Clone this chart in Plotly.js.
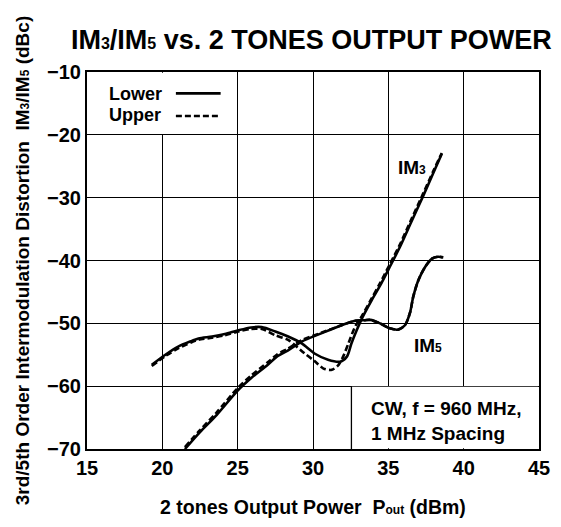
<!DOCTYPE html>
<html>
<head>
<meta charset="utf-8">
<script src="https://cdn.plot.ly/plotly-3.0.1.min.js"></script>
<style>html,body{margin:0;padding:0;background:#fff;}</style>
</head>
<body>
<div id="chart" style="width:561px;height:527px;"></div>
<script>
// ---- Data ----
const im3LowerX = [19.3, 20.2, 21.05, 21.95, 22.4, 23.3, 24.15, 25.05, 25.9, 26.6, 27.5, 28.35, 29.25, 30.1, 31.0, 31.8, 32.25, 32.55, 32.9, 33.25, 33.9, 34.45, 35.1, 35.8, 36.5, 37.3, 38.0, 38.55];
const im3LowerY = [-56.6, -55.0, -53.7, -52.8, -52.4, -52.1, -51.7, -51.1, -50.65, -50.6, -51.3, -52.1, -53.2, -54.8, -55.8, -56.1, -55.3, -53.2, -51.1, -49.2, -46.3, -44.0, -41.0, -37.7, -34.0, -29.8, -26.0, -23.0];
const im3UpperX = [19.3, 20.2, 21.05, 21.95, 22.4, 23.3, 24.15, 25.05, 25.9, 26.6, 27.5, 28.35, 29.45, 30.1, 30.7, 31.25, 31.7, 32.0, 32.35, 32.8, 33.25, 33.9, 34.45, 35.1, 35.8, 36.5, 37.3, 38.0, 38.55];
const im3UpperY = [-56.8, -55.2, -54.0, -53.0, -52.6, -52.3, -51.9, -51.3, -50.9, -50.9, -51.9, -52.65, -54.8, -56.0, -57.2, -57.4, -56.6, -55.3, -53.2, -50.5, -48.8, -46.0, -43.6, -40.6, -37.3, -33.6, -29.4, -25.7, -22.9];
const im5LowerX = [21.5, 22.5, 23.6, 25.0, 25.9, 27.0, 27.6, 28.35, 29.25, 30.55, 31.9, 32.8, 33.45, 33.8, 34.45, 35.1, 35.65, 36.1, 36.45, 36.65, 37.0, 37.45, 37.9, 38.3, 38.65];
const im5LowerY = [-70.0, -67.3, -64.6, -60.7, -58.7, -56.6, -55.3, -54.3, -52.9, -51.6, -50.3, -49.6, -49.5, -49.45, -50.0, -50.8, -51.0, -50.3, -48.2, -45.8, -43.1, -41.0, -39.7, -39.4, -39.5];
const im5UpperX = [21.5, 22.5, 23.6, 25.0, 25.9, 27.0, 27.6, 28.35, 29.25, 30.55, 31.9, 32.8, 33.45, 33.8, 34.45, 35.1, 35.65, 36.1, 36.45, 36.65, 37.0, 37.45, 37.9, 38.3, 38.6];
const im5UpperY = [-69.7, -67.0, -64.2, -60.3, -58.3, -56.2, -55.0, -54.0, -52.7, -51.5, -50.3, -49.6, -49.5, -49.45, -50.0, -50.8, -51.0, -50.3, -48.2, -45.8, -43.1, -41.0, -39.7, -39.4, -39.5];

const xTicks = [15, 20, 25, 30, 35, 40, 45];
const yTicks = [-70, -60, -50, -40, -30, -20, -10];

function sub(t, px) { return '<span style="font-size:' + px + 'px">' + t + '</span>'; }

const titleText = 'IM' + sub('3', 16) + '/IM' + sub('5', 16) + ' vs. 2 TONES OUTPUT POWER';
const xTitle = '2 tones Output Power\u00a0\u00a0P' + sub('out', 12) + ' (dBm)';
const yTitle = '3rd/5th Order Intermodulation Distortion\u00a0\u00a0IM' + sub('3', 12) + '/IM' + sub('5', 12) + ' (dBc)';
const legendNames = ['Lower', 'Upper'];
const curveLabels = ['IM' + sub('3', 12), 'IM' + sub('5', 12)];
const noteText = 'CW, f = 960 MHz,<br>1 MHz Spacing';

// ---- Styling ----
const FONT = '"Liberation Sans", Arial, Helvetica, sans-serif';
const lw = 2.6;
const dashStyle = '6px,3px';
function f(size) { return {family: FONT, size: size, color: '#000', weight: 'bold'}; }

function curve(x, y, dash) {
  return {
    x: x, y: y, type: 'scatter', mode: 'lines', showlegend: false,
    line: {color: '#000', width: lw, dash: dash, shape: 'spline', smoothing: 0.8},
    hoverinfo: 'skip'
  };
}

const traces = [
  curve(im3LowerX, im3LowerY, 'solid'),
  curve(im3UpperX, im3UpperY, dashStyle),
  curve(im5LowerX, im5LowerY, 'solid'),
  curve(im5UpperX, im5UpperY, dashStyle)
];

const axisCommon = {
  showgrid: true, gridcolor: '#000', gridwidth: 1,
  showline: true, linecolor: '#000', linewidth: 2, mirror: true,
  zeroline: false, ticks: '', tickmode: 'array',
  tickfont: f(20)
};

const layout = {
  width: 561, height: 527,
  margin: {l: 87, r: 22, t: 72, b: 78, pad: 0},
  paper_bgcolor: '#fff', plot_bgcolor: '#fff',
  font: {family: FONT, color: '#000'},
  showlegend: false,
  hovermode: false,
  title: {
    text: titleText, font: f(27),
    x: 0.555, xref: 'container', y: 1 - 40 / 527, yref: 'container', yanchor: 'middle'
  },
  xaxis: Object.assign({}, axisCommon, {
    range: [15, 45], tickvals: xTicks,
    title: {text: xTitle, font: f(19.5), standoff: 22}
  }),
  yaxis: Object.assign({}, axisCommon, {
    range: [-70, -10], tickvals: yTicks,
    title: {text: yTitle, font: f(19), standoff: 12}
  }),
  shapes: [
    // blank legend panel (hides grid line inside it)
    {type: 'rect', xref: 'x', yref: 'y', x0: 15.1, x1: 24.92, y0: -19.88, y1: -10.1,
     fillcolor: '#fff', line: {width: 0}, layer: 'above'},
    // legend samples
    {type: 'line', xref: 'x', yref: 'y', x0: 20.9, x1: 23.87, y0: -13.4, y1: -13.4,
     line: {color: '#000', width: lw}, layer: 'above'},
    {type: 'line', xref: 'x', yref: 'y', x0: 20.9, x1: 23.87, y0: -17.0, y1: -17.0,
     line: {color: '#000', width: lw, dash: dashStyle}, layer: 'above'},
    // note box
    {type: 'rect', xref: 'x', yref: 'y', x0: 32.55, x1: 44.95, y0: -69.9, y1: -60.1,
     fillcolor: '#fff', line: {width: 0}, layer: 'above'},
    {type: 'line', xref: 'x', yref: 'y', x0: 32.55, x1: 32.55, y0: -70, y1: -60,
     line: {color: '#000', width: 1.3}, layer: 'above'}
  ],
  annotations: [
    {x: 16.3, y: -13.5, xref: 'x', yref: 'y', text: legendNames[0], showarrow: false,
     xanchor: 'left', yanchor: 'middle', font: f(18)},
    {x: 16.3, y: -16.9, xref: 'x', yref: 'y', text: legendNames[1], showarrow: false,
     xanchor: 'left', yanchor: 'middle', font: f(18)},
    {x: 36.6, y: -25.2, xref: 'x', yref: 'y', text: curveLabels[0], showarrow: false,
     xanchor: 'center', yanchor: 'middle', font: f(19)},
    {x: 37.6, y: -53.6, xref: 'x', yref: 'y', text: curveLabels[1], showarrow: false,
     xanchor: 'center', yanchor: 'middle', font: f(19)},
    {x: 33.7, y: -65.5, xref: 'x', yref: 'y', text: noteText, showarrow: false, align: 'left',
     xanchor: 'left', yanchor: 'middle', font: f(19)}
  ]
};

Plotly.newPlot('chart', traces, layout, {displayModeBar: false});
</script>
</body>
</html>
